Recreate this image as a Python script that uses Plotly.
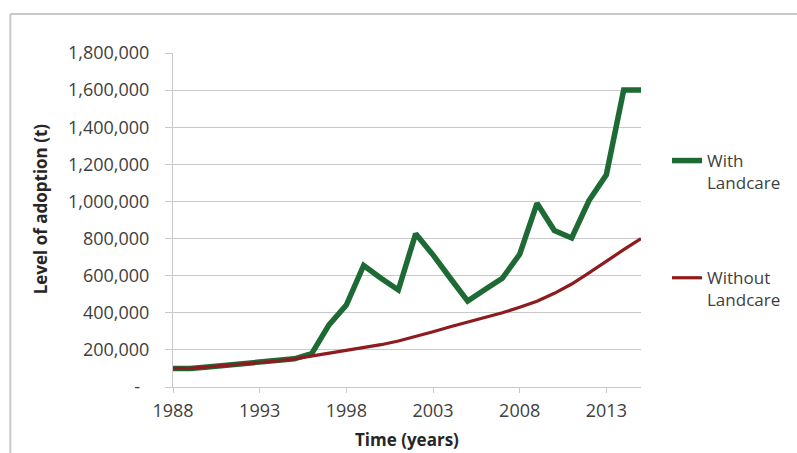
import plotly.graph_objects as go

# Years on the horizontal axis
years = list(range(1988, 2016))

# Adoption with Landcare (t)
with_landcare = [
    100000, 100000, 108000, 116000, 122000, 130000, 140000, 152000, 180000,
    335000, 442000, 655000, 586000, 523000, 826000, 712000, 586000, 463000,
    525000, 586000, 715000, 990000, 843000, 803000, 1005000, 1143000,
    1600000, 1600000,
]

# Adoption without Landcare (t)
without_landcare = [
    100000, 100000, 108000, 116000, 122000, 130000, 140000, 152000, 167000,
    182000, 197000, 212000, 228000, 248000, 272000, 298000, 325000, 350000,
    375000, 400000, 430000, 462000, 505000, 555000, 615000, 680000,
    740000, 800000,
]

# Axis ticks
y_ticks = [0, 200000, 400000, 600000, 800000, 1000000, 1200000, 1400000,
           1600000, 1800000]
y_tick_labels = ["-\u00a0\u00a0"] + [f"{v:,}" for v in y_ticks[1:]]
x_ticks = [1988, 1993, 1998, 2003, 2008, 2013]

FONT = "Open Sans"
GREEN = "#1d6a35"
RED = "#8e1b1d"
GRID = "#c9c9c9"
TEXT = "#404040"
TITLE = "#262626"

fig = go.Figure()
fig.add_trace(go.Scatter(
    x=years, y=with_landcare, mode="lines", name="With<br>Landcare",
    line=dict(color=GREEN, width=5.5), legendgroup="with",
))
fig.add_trace(go.Scatter(
    x=years, y=without_landcare, mode="lines", name="Without<br>Landcare",
    line=dict(color=RED, width=3.2), legendgroup="without",
))

W, H = 797, 453
L, R, T, B = 173, 155, 53, 66
pw, ph = W - L - R, H - T - B

def px_x(p):
    return (p - L) / pw

def px_y(p):
    return (H - B - p) / ph

fig.update_layout(
    width=W, height=H,
    margin=dict(l=L, r=R, t=T, b=B),
    paper_bgcolor="white", plot_bgcolor="white",
    font=dict(family=FONT, size=17, color=TEXT),
    showlegend=True,
    legend=dict(
        x=px_x(667), xanchor="left", y=px_y(143), yanchor="top",
        valign="top", tracegroupgap=70, bgcolor="rgba(0,0,0,0)",
        font=dict(family=FONT, size=17, color=TEXT),
    ),
    xaxis=dict(
        range=[1988, 2015], tickmode="array", tickvals=x_ticks,
        showgrid=False, zeroline=False, showline=True, linecolor=GRID,
        linewidth=1, ticks="outside", ticklen=5, tickcolor=GRID,
        ticklabelstandoff=2, automargin=False,
        tickfont=dict(family=FONT, size=18, color=TEXT),
    ),
    yaxis=dict(
        range=[0, 1800000], tickmode="array", tickvals=y_ticks,
        ticktext=y_tick_labels, showgrid=True, gridcolor=GRID, gridwidth=1,
        zeroline=False, showline=True, linecolor=GRID, linewidth=1,
        ticks="outside", ticklen=7, tickcolor=GRID, ticklabelstandoff=12,
        automargin=False,
        tickfont=dict(family=FONT, size=18, color=TEXT),
    ),
    annotations=[
        dict(
            text="<b>Level of adoption (t)</b>", textangle=-90,
            xref="paper", yref="paper", x=px_x(40), y=px_y(209),
            xanchor="center", yanchor="middle", showarrow=False,
            font=dict(family=FONT, size=17, color=TITLE),
        ),
        dict(
            text="<b>Time (years)</b>",
            xref="paper", yref="paper", x=0.5, y=px_y(439),
            xanchor="center", yanchor="middle", showarrow=False,
            font=dict(family=FONT, size=17, color=TITLE),
        ),
    ],
    shapes=[
        # chart frame (top and left edges)
        dict(type="line", xref="paper", yref="paper",
             x0=px_x(10), x1=px_x(800), y0=px_y(14), y1=px_y(14),
             line=dict(color="#c8c8c8", width=2)),
        dict(type="line", xref="paper", yref="paper",
             x0=px_x(10), x1=px_x(10), y0=px_y(14), y1=px_y(460),
             line=dict(color="#c8c8c8", width=2)),
    ],
)

fig.write_html("out.html")
